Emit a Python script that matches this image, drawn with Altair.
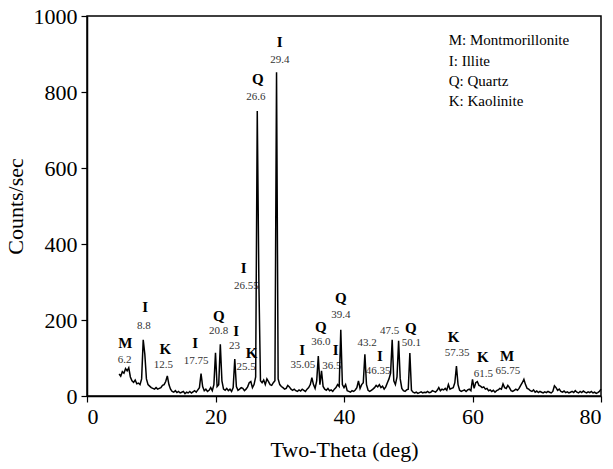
import altair as alt
import pandas as pd

# Measurement grid start/step (two-theta, deg)
theta_start = 5.0
theta_step = 0.25

# Counts/sec, 4 values per degree from 5.0 to 79.75, then 80.0
counts = [
    58, 52, 64, 60,   # 5
    72, 66, 74, 50,   # 6
    40, 36, 42, 32,   # 7
    34, 30, 45, 148,  # 8
    110, 45, 30, 26,  # 9
    22, 20, 18, 22,   # 10
    18, 20, 22, 28,   # 11
    30, 38, 53, 30,   # 12
    18, 12, 10, 14,   # 13
    9, 12, 8, 10,     # 14
    12, 6, 10, 8,     # 15
    12, 8, 11, 14,    # 16
    10, 16, 22, 59,   # 17
    25, 14, 18, 12,   # 18
    15, 22, 14, 30,   # 19
    114, 25, 30, 136, # 20
    40, 18, 15, 20,   # 21
    14, 18, 12, 22,   # 22
    97, 25, 15, 18,   # 23
    22, 20, 14, 18,   # 24
    24, 35, 38, 22,   # 25
    30, 50, 750, 300, # 26
    40, 35, 42, 30,   # 27
    45, 38, 30, 28,   # 28
    35, 40, 852, 45,  # 29
    30, 25, 22, 18,   # 30
    20, 28, 24, 18,   # 31
    15, 18, 14, 12,   # 32
    16, 13, 18, 15,   # 33
    12, 18, 22, 30,   # 34
    48, 30, 20, 40,   # 35
    105, 30, 66, 25,  # 36
    18, 15, 20, 14,   # 37
    16, 12, 18, 22,   # 38
    30, 25, 174, 30,  # 39
    22, 30, 14, 12,   # 40
    10, 14, 12, 16,   # 41
    22, 40, 20, 30,   # 42
    35, 110, 30, 15,  # 43
    12, 15, 18, 22,   # 44
    28, 24, 30, 22,   # 45
    26, 18, 24, 35,   # 46
    45, 60, 148, 40,  # 47
    30, 50, 145, 45,  # 48
    20, 14, 12, 16,   # 49
    18, 113, 15, 10,  # 50
    8, 10, 7, 9,      # 51
    11, 8, 10, 9,     # 52
    12, 9, 10, 14,    # 53
    12, 10, 15, 22,   # 54
    14, 18, 16, 20,   # 55
    15, 30, 18, 20,   # 56
    22, 35, 79, 30,   # 57
    15, 12, 14, 16,   # 58
    12, 16, 18, 14,   # 59
    44, 20, 35, 38,   # 60
    28, 26, 22, 24,   # 61
    18, 20, 14, 16,   # 62
    12, 15, 10, 14,   # 63
    16, 20, 18, 32,   # 64
    22, 20, 28, 22,   # 65
    14, 12, 15, 18,   # 66
    15, 20, 28, 35,   # 67
    44, 30, 20, 18,   # 68
    14, 12, 16, 10,   # 69
    13, 9, 12, 10,    # 70
    8, 11, 9, 12,     # 71
    10, 8, 12, 27,    # 72
    22, 15, 18, 12,   # 73
    10, 13, 9, 11,    # 74
    8, 10, 12, 9,     # 75
    14, 10, 8, 12,    # 76
    9, 13, 10, 8,     # 77
    11, 9, 12, 8,     # 78
    10, 7, 9, 12,     # 79
    18,               # 80
]

# Peak annotations: mineral letters
letter_text = ["M", "I", "K", "I", "Q", "I", "K", "I", "Q", "I", "I", "Q", "I", "Q", "I", "Q", "K", "K", "M"]
letter_x = [5.96, 9.06, 12.2, 16.85, 20.5, 23.2, 25.6, 24.4, 26.6, 30.0, 33.5, 36.4, 38.7, 39.5, 45.6, 50.4, 57.05, 61.6, 65.4]
letter_y = [140, 235, 125, 140, 211, 171, 114, 336, 834, 931, 120, 182, 120, 259, 105, 180, 154, 103, 105]

# Peak annotations: two-theta numbers
num_text = ["6.2", "8.8", "12.5", "17.75", "20.8", "23", "25.5", "26.55", "26.6", "29.4", "35.05", "36.0",
            "36.5", "39.4", "43.2", "46.35", "47.5", "50.1", "57.35", "61.5", "65.75"]
num_x = [5.85, 8.85, 11.9, 17.0, 20.5, 22.95, 24.75, 24.8, 26.3, 30.0, 33.6, 36.4, 38.1, 39.5, 43.6, 45.3, 47.1,
         50.5, 57.6, 61.7, 65.5]
num_y = [96, 184, 81, 92, 171, 131, 77, 289, 788, 885, 81, 142, 79, 213, 140, 66, 171, 140, 114, 59, 66]

legend_text = ["M: Montmorillonite", "I: Illite", "Q: Quartz", "K: Kaolinite"]
legend_y = [937, 882, 829, 776]
legend_x = 56.3

FONT = "Liberation Serif"

df = pd.DataFrame({
    "theta": [theta_start + theta_step * i for i in range(len(counts))],
    "counts": counts,
})
df_letters = pd.DataFrame({"t": letter_text, "x": letter_x, "y": letter_y})
df_nums = pd.DataFrame({"t": num_text, "x": num_x, "y": num_y})
df_legend = pd.DataFrame({"t": legend_text, "x": [legend_x] * len(legend_text), "y": legend_y})

xscale = alt.Scale(domain=[0, 80], nice=False, zero=False)
yscale = alt.Scale(domain=[0, 1000], nice=False)

nums = alt.Chart(df_nums).mark_text(font=FONT, fontSize=11, color="#333333", baseline="middle", align="center").encode(
    x=alt.X("x:Q", scale=xscale), y=alt.Y("y:Q", scale=yscale), text="t:N")

letters = alt.Chart(df_letters).mark_text(font=FONT, fontSize=15, fontWeight="bold", color="black",
                                          baseline="middle", align="center").encode(
    x=alt.X("x:Q", scale=xscale), y=alt.Y("y:Q", scale=yscale), text="t:N")

line = alt.Chart(df).mark_line(color="black", strokeWidth=1.5, interpolate="linear").encode(
    x=alt.X("theta:Q", scale=xscale,
            axis=alt.Axis(title="Two-Theta (deg)", values=[0, 20, 40, 60, 80], format="d", titlePadding=12)),
    y=alt.Y("counts:Q", scale=yscale,
            axis=alt.Axis(title="Counts/sec", values=[0, 200, 400, 600, 800, 1000], format="d", titlePadding=6)),
)

legend = alt.Chart(df_legend).mark_text(font=FONT, fontSize=15, color="black", align="left", baseline="middle").encode(
    x=alt.X("x:Q", scale=xscale), y=alt.Y("y:Q", scale=yscale), text="t:N")

chart = alt.layer(nums, letters, line, legend).properties(
    width=514, height=380,
    autosize=alt.AutoSizeParams(type="none"),
    padding={"left": 87, "top": 16, "right": 12, "bottom": 73},
    background="white",
).configure_view(
    stroke="black", strokeWidth=1.5,
).configure_axis(
    labelFont=FONT, labelFontSize=22, labelColor="black",
    titleFont=FONT, titleFontSize=22, titleFontWeight="normal", titleColor="black",
    tickColor="black", tickSize=6, tickWidth=1.2, labelPadding=4,
    domainColor="black", domainWidth=1.5, grid=False,
)

chart.save("out.html", embed_options={"renderer": "svg", "actions": False})
